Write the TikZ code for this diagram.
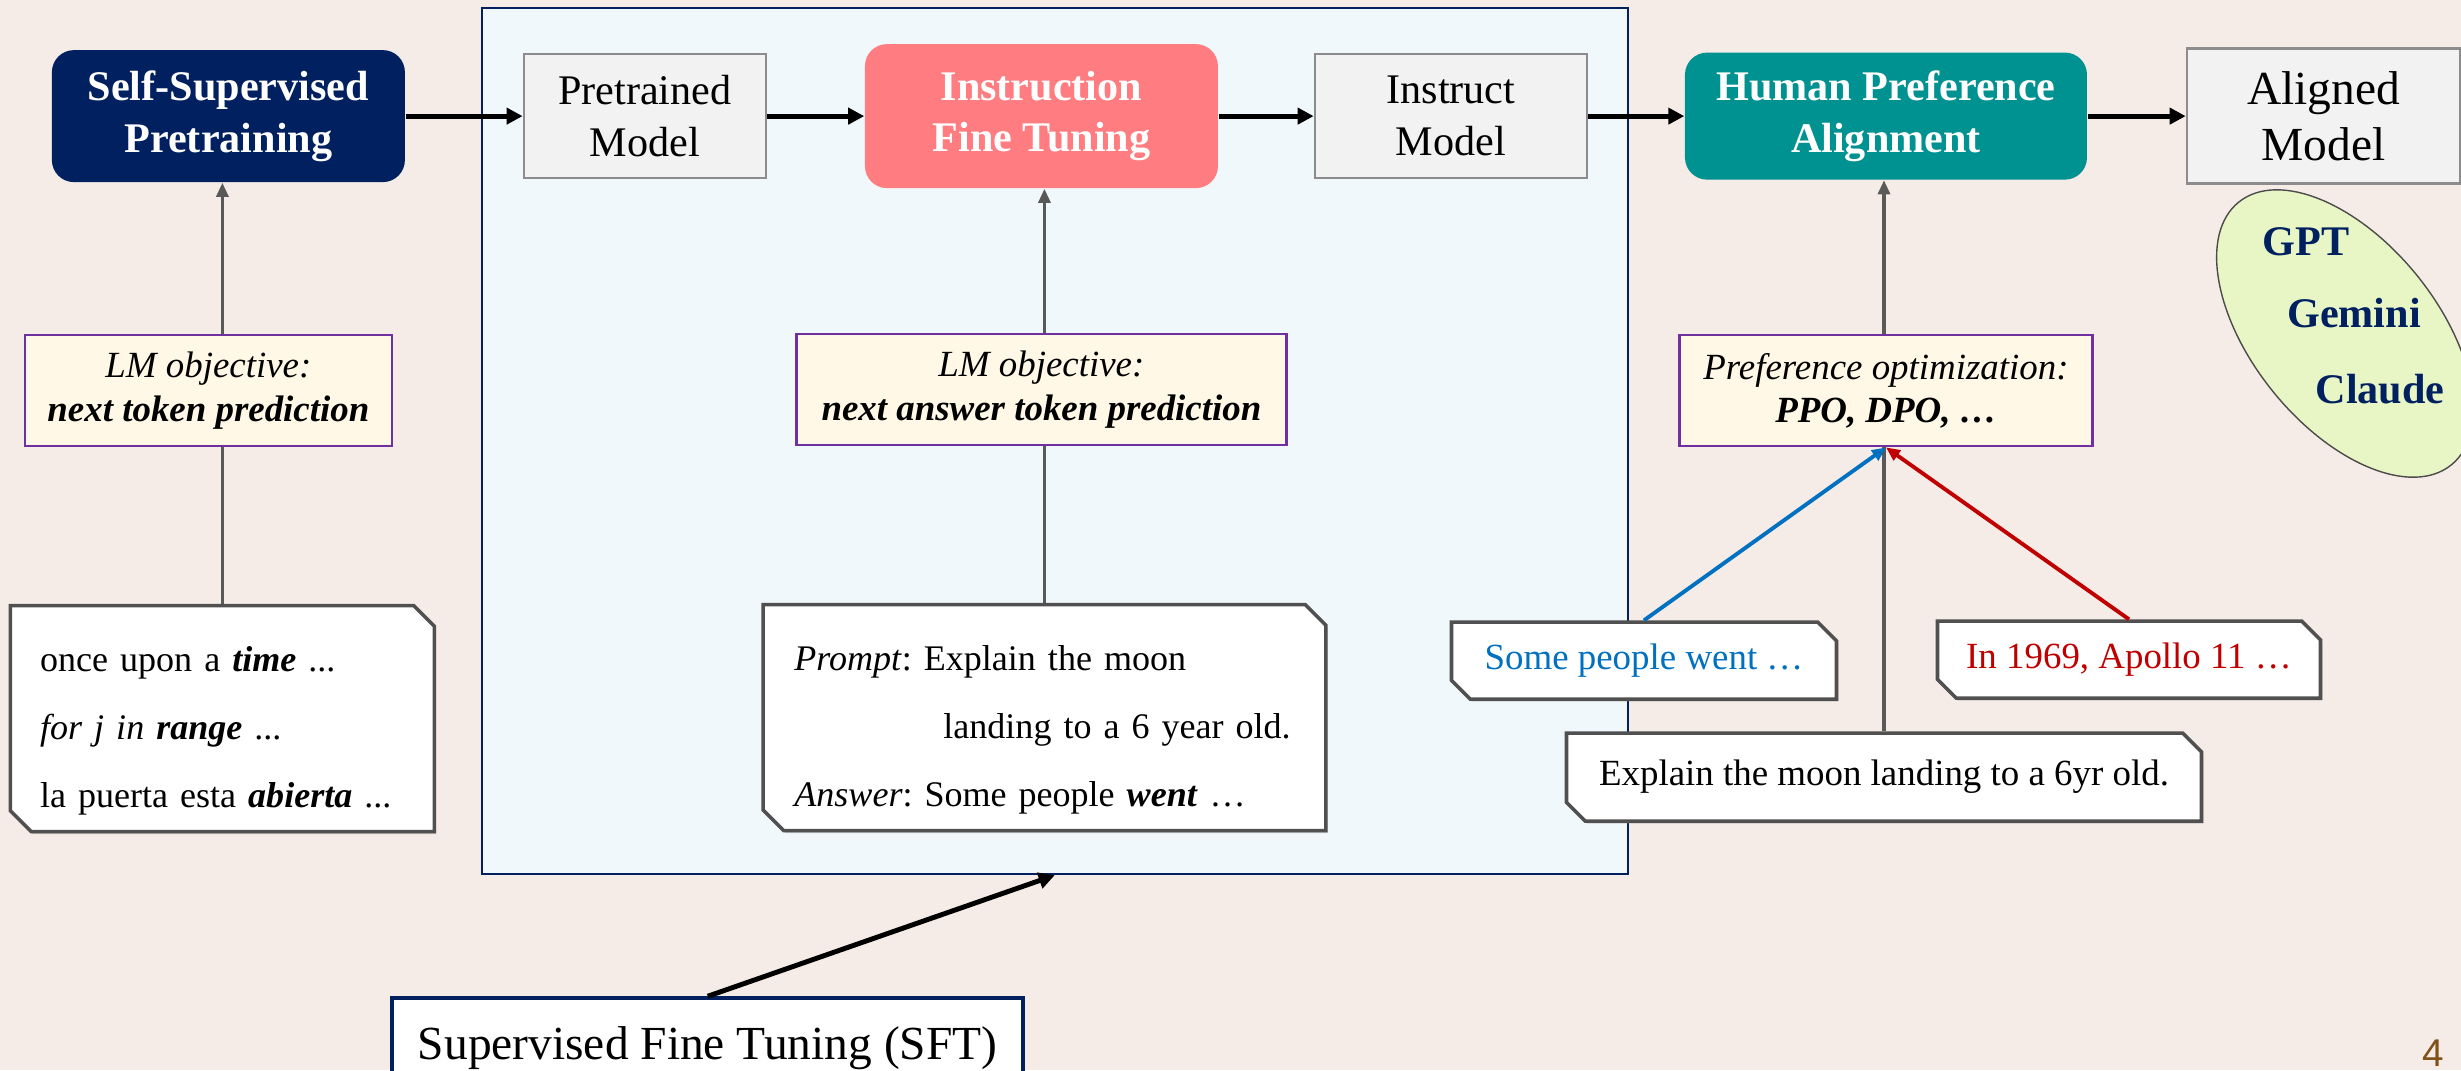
\documentclass[tikz,border=0pt]{standalone}
\usepackage{fontspec}
\setmainfont{Liberation Serif}
\newfontfamily\pagefont{Liberation Sans}
\usetikzlibrary{arrows.meta,positioning,shapes.geometric,shapes.misc,shadows}

\definecolor{slidebg}{RGB}{246,236,231}
\definecolor{navy}{RGB}{0,32,96}
\definecolor{tunepink}{RGB}{255,124,128}
\definecolor{alignteal}{RGB}{0,145,145}
\definecolor{modelfill}{RGB}{242,242,242}
\definecolor{boxgray}{RGB}{140,140,140}
\definecolor{objcream}{RGB}{255,248,231}
\definecolor{objpurple}{RGB}{112,48,160}
\definecolor{framefill}{RGB}{240,248,252}
\definecolor{samplegray}{RGB}{80,80,80}
\definecolor{feedgray}{RGB}{89,89,89}
\definecolor{lineblue}{RGB}{0,112,192}
\definecolor{linered}{RGB}{192,0,0}
\definecolor{famgreen}{RGB}{232,246,198}
\definecolor{pagebrown}{RGB}{128,80,24}

\begin{document}
\begin{tikzpicture}[
  stage/.style={rounded corners=0.22cm, text=white, align=center, minimum width=3.53cm,
                minimum height=1.32cm, font=\fontsize{12}{14.7}\selectfont\bfseries},
  model/.style={draw=boxgray, line width=0.75pt, fill=modelfill, align=center,
                minimum width=2.42cm, minimum height=1.24cm, font=\fontsize{12}{14.7}\selectfont},
  objective/.style={draw=objpurple, line width=0.6pt, fill=objcream, align=center,
                minimum height=1.11cm, font=\fontsize{10.5}{12.5}\selectfont},
  sample/.style={chamfered rectangle, chamfered rectangle corners={north east,south west},
                chamfered rectangle xsep=0.1cm, draw=samplegray, line width=1pt, fill=white,
                drop shadow={shadow xshift=0.5pt, shadow yshift=-0.7pt, opacity=0.35},
                inner ysep=0pt, align=left, font=\frenchspacing\fontsize{10.25}{19.4}\selectfont},
  pick/.style={sample, chamfered rectangle xsep=0.08cm, inner xsep=0.2cm, align=center,
                font=\fontsize{10.5}{12.5}\selectfont},
  sftbox/.style={draw=navy, line width=0.6pt, fill=framefill, minimum width=11.458cm,
                minimum height=8.664cm},
  family/.style={ellipse, draw=black!70, line width=0.4pt, fill=famgreen, rotate=39,
                minimum width=1.85cm, minimum height=3.38cm},
  lmname/.style={text=navy, font=\fontsize{12}{14}\selectfont\bfseries},
  feed/.style={-{Triangle[length=1.4mm,width=1.2mm]}, draw=feedgray, line width=0.9pt},
  flow/.style={-{Triangle[length=1.6mm,width=1.6mm]}, line width=1.4pt},
  node distance=0.96cm
]

% slide
\path[use as bounding box, fill=slidebg] (0,0) rectangle (24.61,-10.70);
\clip (0,0) rectangle (24.61,-10.70);

% SFT region
\node[sftbox] (sftframe) at (10.547,-4.41) {};

% Pipeline
\node[stage, fill=navy] (ssp) at (2.284,-1.161) {Self-Supervised\\Pretraining};
\node[model, right=1.17cm of ssp] (ptm) {Pretrained\\Model};
\node[stage, fill=tunepink, minimum height=1.44cm, right=0.97cm of ptm] (ift) {Instruction\\Fine Tuning};
\node[model, minimum width=2.72cm, right=0.95cm of ift] (itm) {Instruct\\Model};
\node[stage, fill=alignteal, minimum width=4.02cm, minimum height=1.27cm, right=of itm] (hpa) {Human Preference\\Alignment};
\node[model, minimum width=2.73cm, minimum height=1.35cm, font=\fontsize{13.5}{16}\selectfont,
      right=0.98cm of hpa] (alm) {Aligned\\Model};

% Model family
\node[family] (fam) at (23.45,-3.335) {};
\node[lmname, xshift=-0.39cm, yshift=0.92cm] (gpt) at (fam.center) {GPT};
\node[lmname, xshift=0.09cm, yshift=0.2cm] (gemini) at (fam.center) {Gemini};
\node[lmname, xshift=0.35cm, yshift=-0.56cm] (claude) at (fam.center) {Claude};

% Data samples
\node[sample, minimum height=2.26cm, text width=3.644cm, inner xsep=0.198cm,
      below=4.21cm of ssp, xshift=-0.06cm] (ex1)
  {\rule{0pt}{0.49cm}once upon a \textbf{\textit{time}} ...\\
   \textit{for j in} \textbf{\textit{range}} ...\\
   la puerta esta \textbf{\textit{abierta}} ...};
\node[sample, minimum height=2.26cm, text width=5.0cm, inner xsep=0.214cm,
      below=4.14cm of ift, xshift=0.03cm] (ex2)
  {\rule{0pt}{0.49cm}\textit{Prompt}: Explain the moon\\
   \hspace*{1.49cm}\mbox{landing to a 6 year old.}\\
   \textit{Answer}: Some people \textbf{\textit{went}} …};

% Preference data
\node[pick, minimum width=3.85cm, minimum height=0.77cm, text=lineblue,
      below=4.40cm of hpa, xshift=-2.42cm] (good) {Some people went …};
\node[pick, minimum width=3.83cm, minimum height=0.77cm, text=linered,
      below=4.39cm of hpa, xshift=2.43cm] (bad) {In 1969, Apollo 11 …};
\node[pick, minimum width=6.35cm, minimum height=0.88cm,
      below=5.51cm of hpa, xshift=-0.02cm] (ask) {Explain the moon landing to a 6yr old.};

% Pipeline arrows
\draw[flow] (ssp) -- (ptm);
\draw[flow] (ptm) -- (ift);
\draw[flow] (ift) -- (itm);
\draw[flow] (itm) -- (hpa);
\draw[flow] (hpa) -- (alm);

% Objectives
\draw[feed] (ex1.north) -- (ex1.north |- ssp.south);
\draw[feed] (ex2.north) -- (ex2.north |- ift.south);
\draw[feed] (ask.north) -- (ask.north |- hpa.south);
\node[objective, minimum width=3.67cm, below=1.51cm of ssp, xshift=-0.2cm] (lm1)
  {\textit{LM objective:}\\ \textbf{\textit{next token prediction}}};
\node[objective, minimum width=4.9cm, below=1.44cm of ift] (lm2)
  {\textit{LM objective:}\\ \textbf{\textit{next answer token prediction}}};
\node[objective, minimum width=4.13cm, below=1.54cm of hpa] (pref)
  {\textit{Preference optimization:}\\ \textbf{\textit{PPO, DPO, …}}};
\draw[feed, draw=lineblue, line width=1.1pt] (good.north) -- (pref.south);
\draw[feed, draw=linered, line width=1.1pt] (bad.north) -- (pref.south);

% SFT label
\node[draw=navy, line width=1pt, fill=white, minimum width=6.31cm, minimum height=1.0cm,
      font=\fontsize{13.5}{16}\selectfont, below=1.21cm of sftframe, xshift=-3.47cm] (sft)
  {Supervised Fine Tuning (SFT)};
\draw[flow] (sft.north) -- (sftframe.south);

\node[font=\pagefont\fontsize{11}{13}\selectfont, text=pagebrown] (pagenum) at (24.33,-10.53) {4};

\end{tikzpicture}
\end{document}
